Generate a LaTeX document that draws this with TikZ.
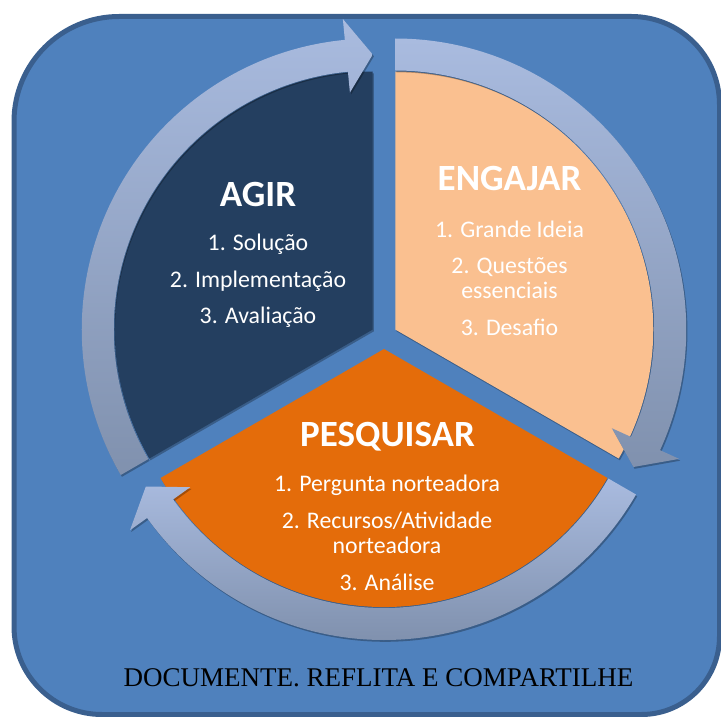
\documentclass[tikz,border=0pt]{standalone}
\usepackage{fontspec}
\setmainfont{Carlito}
\newfontfamily\footserif{Liberation Serif}
\usetikzlibrary{shadows}

\definecolor{panelblue}{HTML}{4F81BD}
\definecolor{paneledge}{HTML}{3A5F8E}
\definecolor{agirfill}{HTML}{243F60}
\definecolor{engfill}{HTML}{FAC090}
\definecolor{pesqfill}{HTML}{E46C0A}
\definecolor{bandtop}{HTML}{A9BBDF}
\definecolor{bandbot}{HTML}{8091AE}

\tikzset{
  softshadow/.style={drop shadow={shadow xshift=1.2pt,shadow yshift=-1.8pt,opacity=0.28,fill=black}},
  sector/.style={softshadow},
  band/.style={top color=bandtop,bottom color=bandbot,softshadow},
  title/.style={text=white,font=\fontsize{37}{41}\selectfont\bfseries,anchor=base,inner sep=0pt},
  item/.style={text=white,font=\fontsize{23.8}{26}\selectfont,anchor=base,inner sep=0pt},
  footer/.style={text=black,font=\footserif\fontsize{27}{30}\selectfont,anchor=base,inner sep=0pt},
}

\begin{document}
\begin{tikzpicture}[x=1pt,y=1pt]
\useasboundingbox (0,0) rectangle (721,-717);

% background panel with unequal corner radii
\draw[line width=5pt,draw=paneledge,fill=panelblue]
  (119,-16.5) -- (631.5,-16.5) arc[start angle=90,end angle=0,radius=88]
  -- (719.5,-636.5) arc[start angle=0,end angle=-90,radius=78]
  -- (102,-714.5) arc[start angle=270,end angle=180,radius=88]
  -- (14,-121.5) arc[start angle=180,end angle=90,radius=105] -- cycle;

% pie sectors, each pushed out from the common centre
\path[sector,fill=agirfill] (372.74,-329.5) -- ++(90:258)
  arc[start angle=90,end angle=210,radius=258] -- cycle;
\path[sector,fill=engfill] (395.26,-329.5) -- ++(90:258)
  arc[start angle=90,end angle=-30,radius=258] -- cycle;
\path[sector,fill=pesqfill] (384,-349) -- ++(210:258)
  arc[start angle=210,end angle=330,radius=258] -- cycle;

% clockwise arrow bands around each sector
\foreach \px/\py/\a in {372.74/-329.5/210, 395.26/-329.5/90, 384/-349/330} {
  \begin{scope}[shift={(\px,\py)}]
    \pgfmathsetmacro\e{\a-120}
    \pgfmathsetmacro\b{\a-114.5}
    \path[band] (\a:259) -- (\a:291)
      arc[start angle=\a,end angle=\b,radius=291]
      -- (\b:312) -- (\e:275) -- (\b:238) -- (\b:259)
      arc[start angle=\b,end angle=\a,radius=259] -- cycle;
  \end{scope}
}

% AGIR
\node[title] (agirT) at (258,-206) {AGIR};
\node[item] (agir1) at (258,-250.7) {1. Solução};
\node[item] (agir2) at (258,-287) {2. Implementação};
\node[item] (agir3) at (258,-323) {3. Avaliação};

% ENGAJAR
\node[title] (engT) at (509.5,-190.7) {ENGAJAR};
\node[item] (eng1) at (509.5,-237.3) {1. Grande Ideia};
\node[item] (eng2) at (509.5,-273.3) {2. Questões};
\node[item] (eng2b) at (509.5,-298.3) {essenciais};
\node[item] (eng3) at (509.5,-335) {3. Desafio};

% PESQUISAR
\node[title] (pesT) at (387.5,-446) {PESQUISAR};
\node[item] (pes1) at (387,-491) {1. Pergunta norteadora};
\node[item] (pes2) at (387,-528) {2. Recursos/Atividade};
\node[item] (pes2b) at (387,-553) {norteadora};
\node[item] (pes3) at (387,-590) {3. Análise};

% footer line
\node[footer] (foot) at (378.5,-686.7) {DOCUMENTE. REFLITA E COMPARTILHE};
\end{tikzpicture}
\end{document}
